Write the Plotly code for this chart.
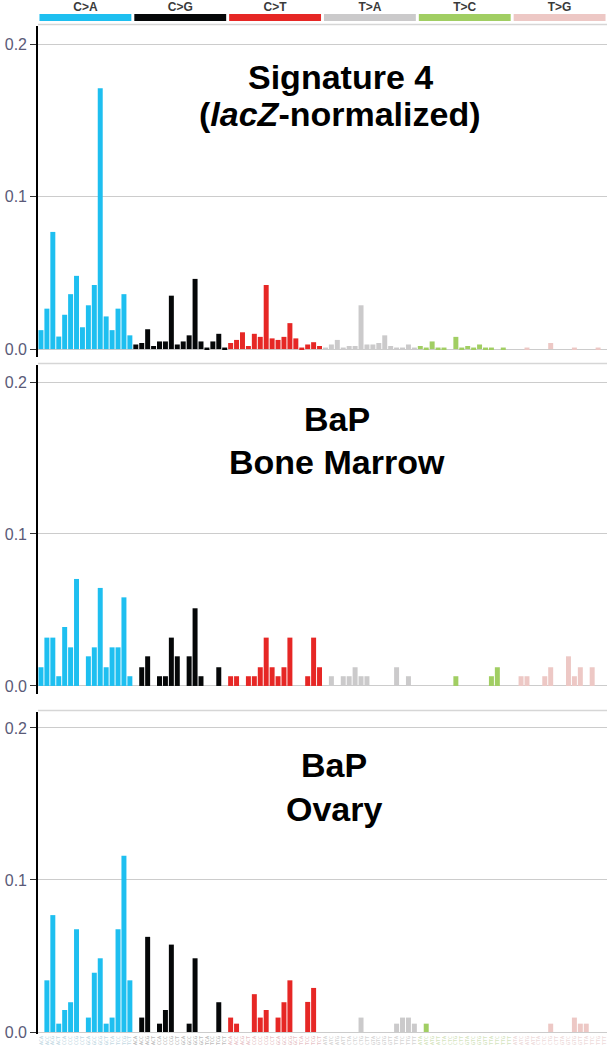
import plotly.graph_objects as go

# mutation classes and trinucleotide contexts (96 channels)
types = ["C>A", "C>G", "C>T", "T>A", "T>C", "T>G"]
type_colors = ["#1EBFF0", "#050708", "#E62725", "#CBCACB", "#A1CE63", "#EDC8C5"]
label_colors = ["#a9cad8", "#a0a0a0", "#dcaab0", "#c4c4c4", "#c3d9a6", "#e6cccc"]
bases = ["A", "C", "G", "T"]

# Signature 4 (lacZ-normalized)
sig4 = [
    0.0124, 0.0265, 0.0768, 0.0082, 0.0225, 0.0360, 0.0480, 0.0143, 0.0287, 0.0420, 0.1710, 0.0214, 0.0124, 0.0265, 0.0360, 0.0090,
    0.0030, 0.0040, 0.0130, 0.0020, 0.0050, 0.0050, 0.0350, 0.0030, 0.0050, 0.0090, 0.0460, 0.0050, 0.0010, 0.0050, 0.0100, 0.0010,
    0.0040, 0.0060, 0.0110, 0.0020, 0.0100, 0.0080, 0.0420, 0.0070, 0.0060, 0.0080, 0.0170, 0.0070, 0.0010, 0.0030, 0.0045, 0.0020,
    0.0010, 0.0030, 0.0060, 0.0010, 0.0020, 0.0020, 0.0287, 0.0030, 0.0030, 0.0040, 0.0090, 0.0020, 0.0010, 0.0010, 0.0030, 0.0010,
    0.0020, 0.0010, 0.0050, 0.0010, 0.0010, 0.0000, 0.0080, 0.0010, 0.0020, 0.0010, 0.0030, 0.0010, 0.0010, 0.0000, 0.0010, 0.0000,
    0.0000, 0.0000, 0.0010, 0.0000, 0.0000, 0.0000, 0.0040, 0.0000, 0.0000, 0.0000, 0.0010, 0.0000, 0.0000, 0.0000, 0.0010, 0.0000,
]

# BaP bone marrow
bap_marrow = [
    0.0123, 0.0318, 0.0318, 0.0064, 0.0388, 0.0254, 0.0704, 0.0000, 0.0195, 0.0254, 0.0645, 0.0123, 0.0254, 0.0254, 0.0583, 0.0064,
    0.0000, 0.0123, 0.0195, 0.0000, 0.0064, 0.0064, 0.0318, 0.0195, 0.0000, 0.0195, 0.0511, 0.0064, 0.0000, 0.0000, 0.0123, 0.0000,
    0.0064, 0.0064, 0.0000, 0.0064, 0.0064, 0.0123, 0.0318, 0.0123, 0.0064, 0.0123, 0.0318, 0.0000, 0.0000, 0.0064, 0.0318, 0.0123,
    0.0000, 0.0064, 0.0000, 0.0064, 0.0064, 0.0123, 0.0064, 0.0064, 0.0000, 0.0000, 0.0000, 0.0000, 0.0123, 0.0000, 0.0064, 0.0000,
    0.0000, 0.0000, 0.0000, 0.0000, 0.0000, 0.0000, 0.0064, 0.0000, 0.0000, 0.0000, 0.0000, 0.0000, 0.0064, 0.0123, 0.0000, 0.0000,
    0.0000, 0.0064, 0.0064, 0.0000, 0.0000, 0.0064, 0.0123, 0.0000, 0.0000, 0.0195, 0.0064, 0.0123, 0.0000, 0.0123, 0.0000, 0.0000,
]

# BaP ovary
bap_ovary = [
    0.0000, 0.0340, 0.0769, 0.0055, 0.0145, 0.0196, 0.0676, 0.0000, 0.0095, 0.0390, 0.0485, 0.0055, 0.0095, 0.0676, 0.1159, 0.0340,
    0.0000, 0.0095, 0.0626, 0.0000, 0.0055, 0.0145, 0.0575, 0.0000, 0.0000, 0.0055, 0.0485, 0.0000, 0.0000, 0.0000, 0.0196, 0.0000,
    0.0095, 0.0055, 0.0000, 0.0000, 0.0249, 0.0095, 0.0145, 0.0000, 0.0095, 0.0196, 0.0340, 0.0000, 0.0000, 0.0198, 0.0290, 0.0000,
    0.0000, 0.0000, 0.0000, 0.0000, 0.0000, 0.0000, 0.0095, 0.0000, 0.0000, 0.0000, 0.0000, 0.0000, 0.0055, 0.0095, 0.0095, 0.0055,
    0.0000, 0.0055, 0.0000, 0.0000, 0.0000, 0.0000, 0.0000, 0.0000, 0.0000, 0.0000, 0.0000, 0.0000, 0.0000, 0.0000, 0.0000, 0.0000,
    0.0000, 0.0000, 0.0000, 0.0000, 0.0000, 0.0000, 0.0055, 0.0000, 0.0000, 0.0000, 0.0095, 0.0055, 0.0055, 0.0000, 0.0000, 0.0000,
]

W, H = 607, 1050
X0 = 38 / W


def py(y):
    # pixel row -> paper fraction
    return 1 - y / H


idx = list(range(96))
bar_colors = [c for c in type_colors for _ in range(16)]
ticktext = []
for t, lc in zip(types, label_colors):
    ref = t[0]
    for a in bases:
        for b in bases:
            ticktext.append("<span style='color:%s'>%s%s%s</span>" % (lc, a, ref, b))

panels = [
    (sig4, (26, 357), [-0.0052, 0.2118], ["<b>Signature 4</b>", "<b>(<i>lacZ</i>-normalized)</b>"], (77, 114), 340),
    (bap_marrow, (365, 694), [-0.0053, 0.2112], ["<b>BaP</b>", "<b>Bone Marrow</b>"], (419, 462), 337),
    (bap_ovary, (712, 1034), [-0.0013, 0.2105], ["<b>BaP</b>", "<b>Ovary</b>"], (765, 809), 334),
]

fig = go.Figure()
layout = dict(
    width=W, height=H,
    margin=dict(l=0, r=0, t=0, b=0, autoexpand=False),
    paper_bgcolor="white", plot_bgcolor="white",
    showlegend=False, bargap=0.15,
    font=dict(family="Arial, Liberation Sans, sans-serif"),
)
annotations = []
shapes = []

for i, (vals, (top, bot), yr, title, ty, tx) in enumerate(panels):
    n = "" if i == 0 else str(i + 1)
    fig.add_trace(go.Bar(x=idx, y=vals, marker=dict(color=bar_colors, line=dict(width=0)),
                         width=0.84, xaxis="x" + n, yaxis="y" + n, hoverinfo="y"))
    last = i == 2
    layout["xaxis" + n] = dict(
        domain=[X0, 1], range=[-0.5, 95.5], anchor="y" + n, automargin=False,
        showgrid=False, zeroline=False, showline=False,
        showticklabels=last, tickvals=idx if last else None, ticktext=ticktext if last else None,
        tickfont=dict(size=5, family="DejaVu Sans Mono, monospace"), tickangle=-90, ticks="",
    )
    layout["yaxis" + n] = dict(
        domain=[py(bot), py(top)], range=yr, anchor="x" + n, automargin=False,
        tickvals=[0, 0.1, 0.2], ticktext=["0.0", "0.1", "0.2"],
        tickfont=dict(size=16, color="#5a5a78"),
        showgrid=True, gridcolor="#cccccc", gridwidth=1.3, zeroline=False,
        showline=True, linecolor="black", linewidth=1.6,
        ticks="outside", ticklen=6, tickcolor="#333333", tickwidth=1,
    )
    shapes.append(dict(type="line", xref="paper", yref="paper", x0=X0, x1=1,
                       y0=py(top - 1.5), y1=py(top - 1.5), line=dict(color="#d6d6d6", width=1.5)))
    for line, yy in zip(title, ty):
        annotations.append(dict(text=line, xref="paper", yref="paper", x=tx / W, y=py(yy),
                                xanchor="center", yanchor="middle", showarrow=False,
                                font=dict(size=34, color="black")))

# colored strip with mutation classes on top
centers = [16 * k + 7.5 for k in range(6)]
fig.add_trace(go.Bar(x=centers, y=[1] * 6, width=15.5, marker=dict(color=type_colors, line=dict(width=0)),
                     xaxis="x4", yaxis="y4", hoverinfo="x"))
layout["xaxis4"] = dict(domain=[X0, 1], range=[-0.5, 95.5], anchor="y4", side="top", automargin=False,
                        tickvals=centers, ticktext=["<b>%s</b>" % t for t in types],
                        tickfont=dict(size=12, color="#3a3a3a"), ticks="", showgrid=False,
                        zeroline=False, showline=False)
layout["yaxis4"] = dict(domain=[py(21), py(14)], range=[0, 1], anchor="x4", automargin=False,
                        showticklabels=False, showgrid=False, zeroline=False, showline=False)

layout["annotations"] = annotations
layout["shapes"] = shapes
fig.update_layout(**layout)

# drop the default page margin so the figure sits at the window's corner
fig.write_html("out.html", config={"displayModeBar": False},
               post_script="document.body.style.margin = '0';")
